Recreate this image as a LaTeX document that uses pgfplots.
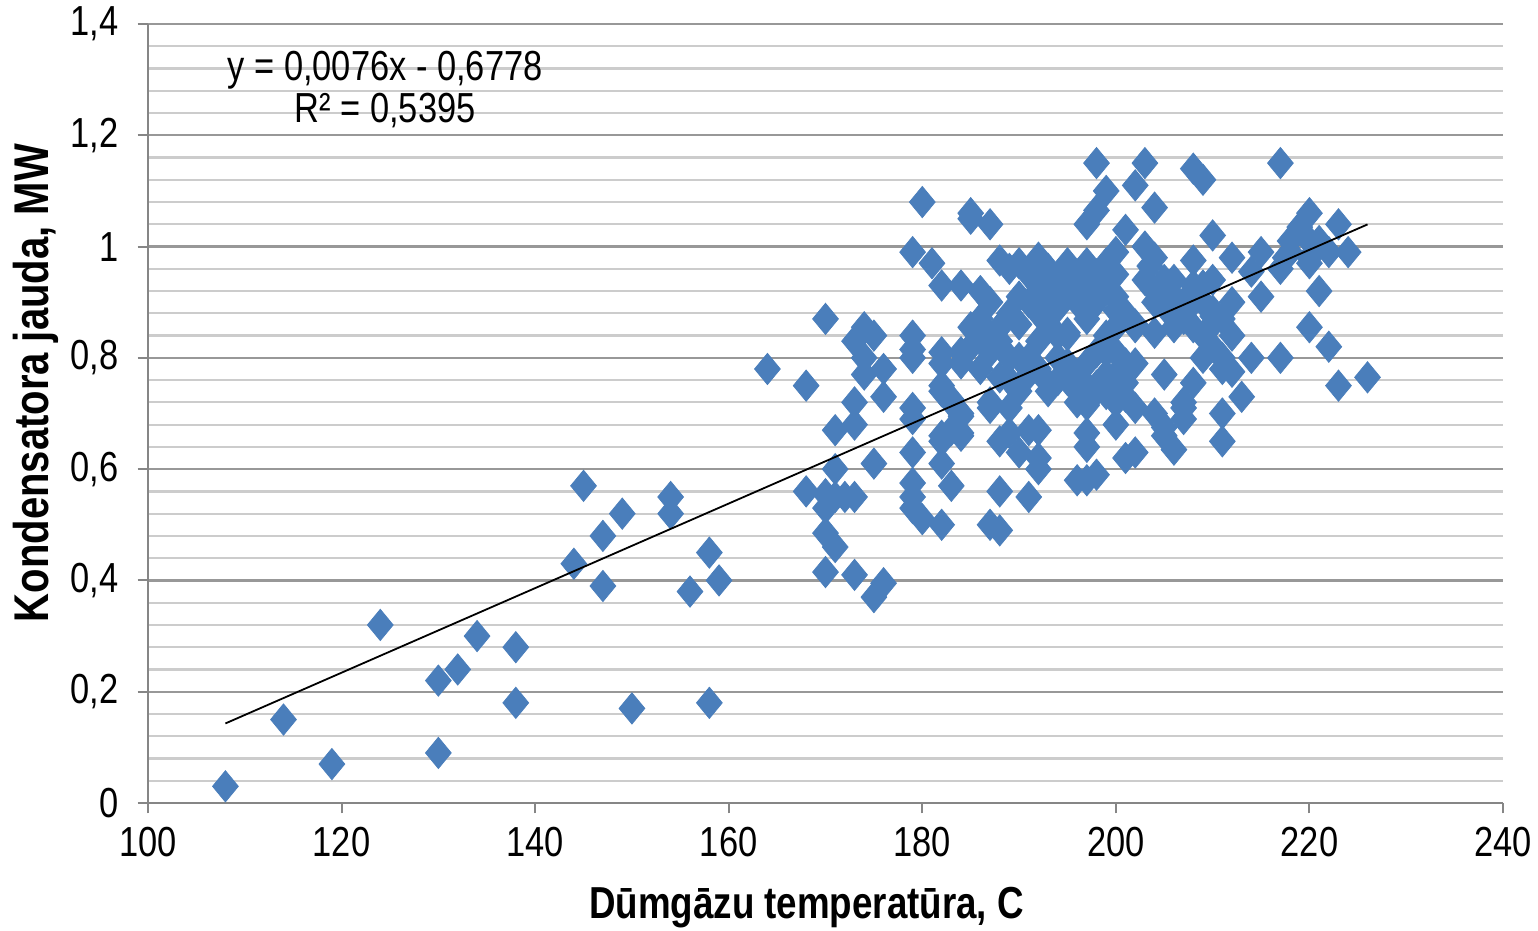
\documentclass[border=0pt]{standalone}
\usepackage{fontspec}
\setmainfont{Liberation Sans}[FakeStretch=0.82]
\usepackage{pgfplots}
\pgfplotsset{compat=1.18}
\usepackage{pgfplotstable}
\definecolor{ptblue}{HTML}{4A7EBB}
\definecolor{gmaj}{HTML}{989898}
\definecolor{gmin}{HTML}{CCCCCC}
\definecolor{axg}{HTML}{868686}
\pgfplotstableread{
x y
108 0.03
114 0.15
119 0.07
124 0.32
130 0.22
130 0.09
132 0.24
134 0.30
138 0.28
138 0.18
144 0.43
145 0.57
147 0.48
147 0.39
149 0.52
150 0.17
154 0.55
154 0.52
156 0.38
158 0.45
158 0.18
159 0.40
164 0.78
168 0.75
168 0.56
170 0.87
170 0.555
170 0.53
170 0.485
170 0.415
171 0.46
171 0.67
171 0.60
171 0.55
172 0.55
173 0.55
173 0.72
173 0.68
173 0.83
173 0.41
174 0.855
175 0.84
174 0.80
174 0.77
175 0.61
175 0.37
176 0.395
176 0.78
176 0.73
179 0.84
179 0.815
179 0.80
179 0.99
180 1.08
179 0.71
179 0.69
179 0.63
179 0.575
179 0.55
179 0.53
180 0.51
181 0.97
182 0.93
182 0.81
182 0.79
182 0.75
182 0.74
182 0.66
182 0.65
182 0.61
182 0.50
183 0.57
183 0.72
183 0.725
183 0.67
184 0.70
184 0.66
184 0.695
184 0.665
184 0.79
184 0.81
184 0.93
185 1.06
185 1.05
187 1.04
185 0.855
186 0.87
186 0.84
187 0.84
188 0.855
186 0.78
186 0.92
187 0.90
187 0.71
187 0.72
187 0.50
188 0.49
188 0.56
188 0.65
188 0.975
188 0.765
188 0.83
189 0.665
189 0.71
190 0.63
190 0.80
190 0.74
191 0.55
191 0.67
192 0.67
192 0.62
192 0.60
192 0.78
193 0.755
195 0.845
196 0.58
197 0.58
198 0.59
197 0.665
197 0.64
197 1.04
198 1.065
198 1.15
199 1.10
198 0.74
196 0.74
197 0.715
199 0.735
200 0.74
200 0.72
200 0.68
201 0.755
202 0.71
200 0.99
200 0.885
200 0.855
201 1.03
201 0.62
202 0.63
202 1.11
202 0.855
203 1.15
203 1.00
203.5 0.965
204 0.98
203 0.94
205 0.94
204 0.92
206 0.91
205.6 0.88
204 1.07
204 0.70
204 0.845
205 0.77
205 0.675
205 0.66
206 0.635
206 0.855
207 0.71
207 0.69
207 0.72
208 1.14
209 1.12
208 0.755
208 0.855
208 0.975
208 0.93
207 0.90
209 0.90
209 0.80
210 1.02
210 0.94
210 0.885
210 0.875
210 0.82
211 0.70
211 0.65
211 0.78
211 0.80
212 0.90
212 0.98
212 0.775
213 0.73
214 0.80
214 0.955
215 0.99
215 0.91
217 0.80
217 1.15
217 0.96
217.5 0.98
218 0.99
218 1.01
219 1.035
220 1.06
220 1.01
220 0.98
220 0.97
220 0.855
221 0.92
221 1.01
222 0.82
222 0.99
223 1.04
223 0.75
224 0.99
226 0.765
189 0.88
190 0.97
190 0.86
191 0.90
191 0.80
192 0.93
192 0.83
193 0.96
193 0.86
194 0.89
195 0.92
196 0.95
197 0.87
198 0.90
199 0.97
200 0.91
201 0.88
193 0.74
194 0.80
195 0.76
196 0.72
197 0.79
198 0.75
199 0.81
200 0.77
201 0.73
202 0.79
195 0.84
199 0.84
202 0.86
204 0.90
185 0.82
187 0.81
189 0.80
191 0.77
189 0.76
206 0.94
207 0.87
208 0.90
209 0.84
211 0.87
212 0.84
189 0.96
190 0.91
191 0.95
192 0.98
192 0.88
193 0.91
194 0.94
194 0.84
195 0.97
196 0.90
197 0.92
197 0.97
198 0.95
199 0.93
200 0.95
194 0.76
195 0.79
196 0.77
197 0.75
198 0.81
199 0.77
200 0.81
201 0.79
209 0.93
210 0.86
}\ptdata
\begin{document}
\begin{tikzpicture}
\begin{axis}[
  scale only axis,
  width=338.75pt, height=194.75pt,
  xmin=100, xmax=240, ymin=0, ymax=1.4,
  xtick={100,120,...,240},
  ytick={0,0.2,...,1.4},
  minor ytick={0.04,0.08,...,1.39},
  axis x line*=bottom, axis y line*=left,
  axis line style={-, axg, line width=0.6pt},
  ymajorgrids, yminorgrids,
  major grid style={gmaj, line width=0.55pt},
  minor grid style={gmin, line width=0.55pt},
  tick align=outside,
  major tick length=2.6pt,
  minor tick length=0pt,
  tick style={axg, line width=0.5pt},
  xtick pos=bottom, ytick pos=left,
  /pgf/number format/assume math mode=true,
  /pgf/number format/use comma,
  yticklabel style={/pgf/number format/fixed, font=\fontsize{10.5}{12}\selectfont, xshift=-1.2pt},
  xticklabel style={font=\fontsize{10.5}{12}\selectfont},
  xlabel={Dūmgāzu temperatūra, C},
  ylabel={Kondensatora jauda, MW},
  xlabel style={font=\fontsize{11.2}{13}\selectfont\bfseries, at={(axis description cs:0.486,-0.1345)}, anchor=center},
  ylabel style={font=\fontsize{12.2}{14}\selectfont\bfseries, at={(axis description cs:-0.0827,0.539)}, anchor=center},
  clip=false,
  clip marker paths=true,
]
\addplot[only marks, mark=diamond*, mark size=3.9pt,
  mark options={fill=ptblue, draw=ptblue, line width=0.2pt, xscale=1.1}]
  table[x=x, y=y] {\ptdata};
\addplot[black, line width=0.45pt] coordinates {(108,0.1430) (226,1.0398)};
\node[align=center, font=\fontsize{10.5}{10.5}\selectfont, inner sep=0pt] at (axis cs:124.5,1.283) {y = 0,0076x - 0,6778\\R² = 0,5395};
\end{axis}
\pgfresetboundingbox
\useasboundingbox (-37pt,-31.75pt) rectangle (347.5pt,200.75pt);
\end{tikzpicture}
\end{document}
